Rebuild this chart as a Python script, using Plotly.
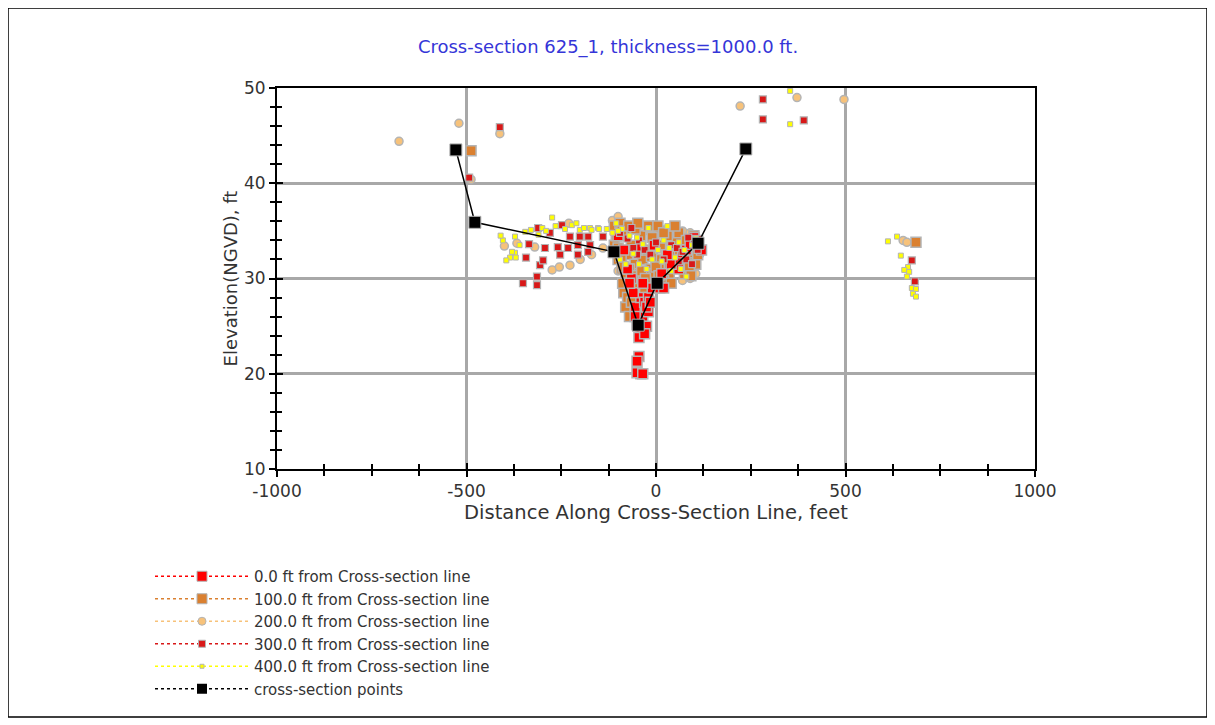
import plotly.graph_objects as go

# ---------------- data ----------------
series_names = [
    "0.0 ft from Cross-section line",
    "100.0 ft from Cross-section line",
    "200.0 ft from Cross-section line",
    "300.0 ft from Cross-section line",
    "400.0 ft from Cross-section line",
]

x_tick_vals = [-1000, -500, 0, 500, 1000]
x_tick_text = ["-1000", "-500", "0", "500", "1000"]
y_tick_vals = [10, 20, 30, 40, 50]
y_tick_text = ["10", "20", "30", "40", "50"]

# 0.0 ft
s0_x = [-50, -40, -35, -20, -25, -45, -55, -40, -30, -60, -20, -10, 10, 20,
        -45, -50, -40, -50, -35, -65, -75, 80, 100, 120, 60, 40, -100, -85,
        -40, -5, -70, -35, 15, 30, -30, -55, -25, -15, 70, 90, 110]
s0_y = [25.2, 24.5, 26.0, 26.5, 25.0, 23.8, 27.0, 28.0, 27.5, 28.5, 28.0, 29.0, 29.0, 29.0,
        21.8, 21.3, 20.0, 20.1, 20.0, 30.0, 31.0, 33.0, 34.3, 33.0, 31.0, 31.5, 34.5, 33.0,
        33.3, 33.5, 29.5, 29.5, 30.5, 32.5, 24.2, 26.0, 27.0, 27.5, 32.3, 33.6, 34.0]

# 100.0 ft
s1_x = [-110, -95, -80, -110, -100, -90, -80, -75, -65, -55, -45, -35, -25, -15, -5, 5,
        15, 25, 35, 45, 55, 65, 75, 85, 95, 105, 20, -20, -60, -85, -80, -70, -90, 10,
        30, 60, -40, -55, -10, 80, 100, 40, -30, -488, 686,
        -105, -100, -92, -85, -70, -60, -50, -38, -28, -12, 0, 8, 12, 28, 35, 50, 62, 72,
        88, 92, 100, 110, -75, -65, -88, -72, -48, -20, 5, 50, 20]
s1_y = [35.5, 35.8, 34.5, 33.5, 32.0, 31.0, 30.0, 32.5, 33.5, 31.5, 30.5, 32.0, 33.0, 31.0, 30.5, 32.0,
        33.5, 31.0, 30.0, 32.5, 33.8, 31.5, 30.5, 32.0, 33.0, 31.5, 29.8, 29.5, 29.0, 28.5, 27.0, 26.0, 35.0, 35.0,
        34.5, 34.8, 34.5, 35.2, 34.3, 34.0, 34.5, 29.5, 28.5, 43.4, 33.8,
        34.5, 33.2, 32.3, 31.2, 31.0, 30.3, 33.0, 30.8, 30.0, 32.3, 31.2, 30.3, 33.2, 32.5, 31.5, 31.2, 33.0, 31.8,
        31.2, 30.3, 32.7, 32.5, 28.0, 27.5, 29.5, 35.5, 35.8, 35.5, 35.5, 35.5, 34.8]

# 200.0 ft
s2_x = [-678, -520, -488, -412, 222, 372, 496, 652, 662,
        -367, -274, -227, -140, -200, -255, -320, -400, -170, -230,
        -115, -100, -80, -30, -10, 10, 30, 45, 70, 90, 110, 115, 105, 90, 70,
        -100, 0]
s2_y = [44.4, 46.3, 40.4, 45.2, 48.1, 49.0, 48.8, 34.0, 33.8,
        33.7, 30.9, 31.4, 33.2, 32.0, 31.2, 33.3, 33.4, 32.5, 35.8,
        36.1, 36.5, 35.5, 35.0, 35.2, 34.8, 35.0, 35.3, 35.0, 34.8, 34.0, 32.5, 30.5, 30.0, 29.8,
        30.8, 31.5]

# 300.0 ft
s3_x = [-493, -412, 282, 282, 390, 675, 683,
        -335, -343, -351, -314, -314, -306, -298, -293, -311, -280, -259, -253, -248,
        -232, -227, -206, -206, -201, -179, -174, -179, -140,
        -75, -60, -45, -30, -50, -95, 40, 55, 70, 80, 95, 60, 85, 100, -15, 0, -65, 20, 110]
s3_y = [40.6, 45.9, 48.8, 46.7, 46.6, 31.9, 29.7,
        33.6, 32.2, 29.5, 30.2, 29.3, 31.4, 31.9, 33.2, 35.3, 34.8, 33.3, 32.5, 35.6,
        33.2, 34.4, 33.5, 32.5, 34.4, 34.4, 33.5, 32.8, 34.4,
        34.2, 33.2, 34.0, 33.0, 32.5, 34.8, 33.5, 33.2, 32.8, 32.0, 31.5, 31.8, 34.3, 33.6, 32.5, 33.8, 35.3, 32.0, 33.0]

# 400.0 ft
s4_x = [354, 354, 612, 636, 646, 665, 655, 668, 662, 675, 686, 678, 686,
        -274, -404, -372, -385, -372, -201, -174, -153, -222,
        -330, -310, -300, -290, -240, -265, -190, -170, -150, -345, -360, -380, -395, -370, -210, -410,
        -105, -90, -70, -50, -35, -60, -95, -25, -10, 5, 20, 35, 50, 65, 80, 95, 105, 60,
        -80, -45, 15, -20, 30, 75, 40, -115, -100, -130]
s4_y = [49.7, 46.2, 33.9, 34.4, 32.4, 31.2, 30.9, 30.7, 30.2, 29.0, 28.9, 28.4, 28.1,
        36.4, 34.0, 34.4, 32.2, 32.7, 35.1, 35.3, 35.3, 35.6,
        35.1, 34.6, 35.3, 35.0, 35.2, 35.5, 35.3, 35.1, 35.2, 34.9, 33.5, 32.8, 31.9, 32.2, 35.8, 34.5,
        35.8, 35.2, 34.5, 34.3, 33.6, 32.6, 32.0, 31.0, 32.0, 33.0, 34.0, 33.2, 32.2, 31.0, 30.2, 33.5, 34.2, 33.8,
        31.5, 31.5, 31.8, 35.3, 35.5, 33.0, 30.8, 34.8, 35.0, 35.2]

# cross-section points
cs_x = [-528, -478, -111, -47, 3, 111, 237]
cs_y = [43.5, 35.9, 32.8, 25.1, 29.5, 33.7, 43.6]

# ---------------- styles ----------------
colors = ["#FF0000", "#DA8030", "#F7C27A", "#D81818", "#FFFF00"]
symbols = ["square", "square", "circle", "square", "square"]
sizes = [10, 10, 8, 7, 5]
halo_w = [1.5, 1.5, 1.5, 1.2, 1.0]
halo = "#B4B4B4"

xs = [s0_x, s1_x, s2_x, s3_x, s4_x]
ys = [s0_y, s1_y, s2_y, s3_y, s4_y]

fig = go.Figure()

draw_order = [2, 1, 0, 3, 4]
for i in draw_order:
    fig.add_trace(go.Scatter(
        x=xs[i], y=ys[i], mode="markers", showlegend=False,
        marker=dict(color=colors[i], symbol=symbols[i], size=sizes[i],
                    line=dict(color=halo, width=halo_w[i])),
        hoverinfo="skip"))

fig.add_trace(go.Scatter(
    x=cs_x, y=cs_y, mode="lines+markers", showlegend=False,
    line=dict(color="black", width=1.5),
    marker=dict(color="black", symbol="square", size=12, line=dict(color=halo, width=1))))

# legend entries
for i in range(5):
    fig.add_trace(go.Scatter(
        x=[None], y=[None], mode="lines+markers", name=series_names[i],
        line=dict(color=colors[i], width=1.5, dash="dot"),
        marker=dict(color=colors[i], symbol=symbols[i], size=max(sizes[i], 6) if i < 4 else 4,
                    line=dict(color=halo, width=1))))
fig.add_trace(go.Scatter(
    x=[None], y=[None], mode="lines+markers", name="cross-section points",
    line=dict(color="black", width=1.5, dash="dot"),
    marker=dict(color="black", symbol="square", size=10)))

# overlay axes for inward ticks
fig.add_trace(go.Scatter(x=[None], y=[None], xaxis="x2", yaxis="y2", showlegend=False))

# page has an 8px body margin -> figure origin at page (8, 8)
OFF = 8
W, H = 1215 - OFF, 725 - OFF
L, R, T, B = 277 - OFF, 1215 - 1035, 88 - OFF, 725 - 469
pw, ph = W - L - R, H - T - B


def px2paper_x(px):
    return (px - OFF - L) / pw


def px2paper_y(py):
    return (H - B - (py - OFF)) / ph


font_family = "DejaVu Sans, Verdana, sans-serif"
txt = "#333333"

axis_common = dict(
    showgrid=True, gridcolor="#A8A8A8", gridwidth=3,
    zeroline=False, showline=True, linecolor="black", linewidth=2,
    ticks="outside", ticklen=6, tickcolor="black", tickwidth=1.5,
    tickfont=dict(family=font_family, size=17, color=txt),
)

fig.update_layout(
    width=W, height=H,
    margin=dict(l=L, r=R, t=T, b=B),
    paper_bgcolor="white", plot_bgcolor="white",
    title=dict(text="Cross-section 625_1, thickness=1000.0 ft.",
               x=(608 - OFF) / W, xref="container", xanchor="center",
               y=1 - (47 - OFF) / H, yref="container", yanchor="middle",
               font=dict(family=font_family, size=18, color="#3535D8")),
    xaxis=dict(range=[-1000, 1000], tickmode="array", tickvals=x_tick_vals, ticktext=x_tick_text,
               title=dict(text="Distance Along Cross-Section Line, feet",
                          font=dict(family=font_family, size=19.5, color=txt), standoff=3),
               minor=dict(dtick=125, tick0=0, ticks="outside", ticklen=5, tickcolor="black", showgrid=False),
               mirror=True, **axis_common),
    yaxis=dict(range=[10, 50], tickmode="array", tickvals=y_tick_vals, ticktext=y_tick_text,
               title=dict(text="Elevation(NGVD), ft",
                          font=dict(family=font_family, size=18, color=txt), standoff=2),
               minor=dict(dtick=2, tick0=0, ticks="outside", ticklen=5, tickcolor="black", showgrid=False),
               mirror=True, **axis_common),
    xaxis2=dict(range=[-1000, 1000], overlaying="x", anchor="y2", dtick=500, tick0=0,
                showgrid=False, zeroline=False, showticklabels=False,
                ticks="inside", ticklen=6, tickcolor="black", tickwidth=1.5,
                minor=dict(dtick=125, tick0=0, ticks="inside", ticklen=5, tickcolor="black"),
                side="bottom"),
    yaxis2=dict(range=[10, 50], overlaying="y", anchor="x2", dtick=10, tick0=0,
                showgrid=False, zeroline=False, showticklabels=False,
                ticks="inside", ticklen=6, tickcolor="black", tickwidth=1.5,
                minor=dict(dtick=2, tick0=0, ticks="inside", ticklen=5, tickcolor="black"),
                side="left"),
    legend=dict(x=px2paper_x(150), y=px2paper_y(560), xanchor="left", yanchor="top",
                font=dict(family=font_family, size=15, color=txt),
                itemwidth=94, bgcolor="rgba(0,0,0,0)", tracegroupgap=0),
    shapes=[dict(type="rect", xref="paper", yref="paper",
                 x0=px2paper_x(8), x1=px2paper_x(1207),
                 y0=px2paper_y(717), y1=px2paper_y(8),
                 line=dict(color="black", width=1.5), layer="below")],
)

fig.write_html("out.html")
